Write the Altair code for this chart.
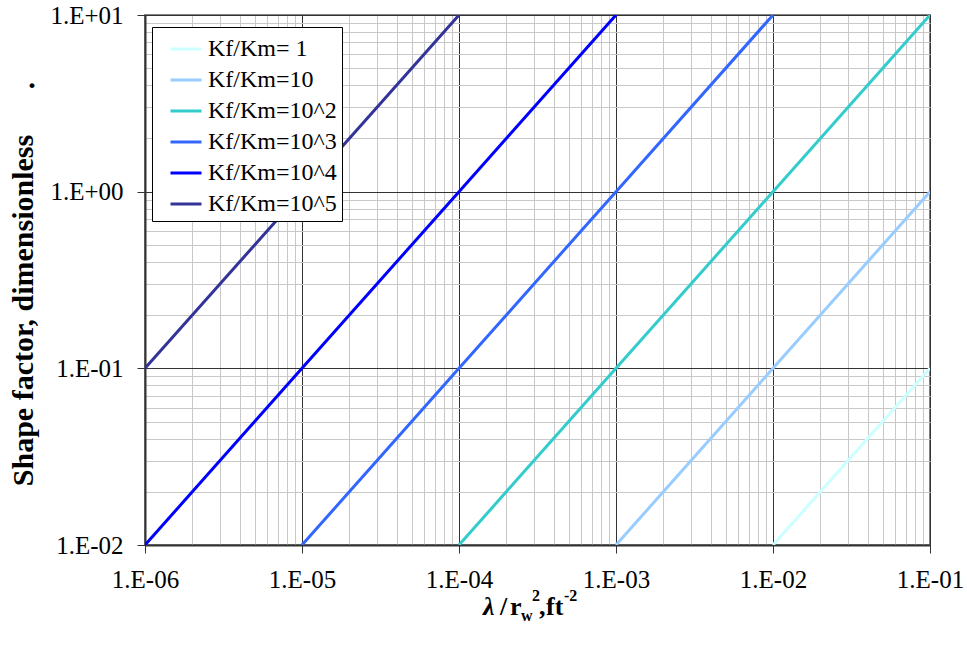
import altair as alt
import pandas as pd

# Shape factor vs. lambda / rw^2 for several fracture/matrix permeability ratios
series_names = ["Kf/Km= 1", "Kf/Km=10", "Kf/Km=10^2", "Kf/Km=10^3", "Kf/Km=10^4", "Kf/Km=10^5"]
series_colors = ["#ccffff", "#99ccff", "#33cccc", "#3366ff", "#0000ff", "#333399"]

x_k1 = [1e-2, 1e-1]
y_k1 = [1e-2, 1e-1]
x_k10 = [1e-3, 1e-2, 1e-1]
y_k10 = [1e-2, 1e-1, 1e0]
x_k100 = [1e-4, 1e-3, 1e-2, 1e-1]
y_k100 = [1e-2, 1e-1, 1e0, 1e1]
x_k1000 = [1e-5, 1e-4, 1e-3, 1e-2]
y_k1000 = [1e-2, 1e-1, 1e0, 1e1]
x_k1e4 = [1e-6, 1e-5, 1e-4, 1e-3]
y_k1e4 = [1e-2, 1e-1, 1e0, 1e1]
x_k1e5 = [1e-6, 1e-5, 1e-4]
y_k1e5 = [1e-1, 1e0, 1e1]

# tick positions: every 1..9 multiple of each decade
x_ticks = [m * 10.0 ** e for e in range(-6, -1) for m in range(1, 10)] + [1e-1]
y_ticks = [m * 10.0 ** e for e in range(-2, 1) for m in range(1, 10)] + [1e1]

xs = [x_k1, x_k10, x_k100, x_k1000, x_k1e4, x_k1e5]
ys = [y_k1, y_k10, y_k100, y_k1000, y_k1e4, y_k1e5]
rows = []
for name, xv, yv in zip(series_names, xs, ys):
    for i, (a, b) in enumerate(zip(xv, yv)):
        rows.append({"series": name, "x": a, "y": b, "order": i})
df = pd.DataFrame(rows)

FONT = "Liberation Serif"
MAJOR = "abs(log(datum.value)/LN10 - round(log(datum.value)/LN10)) < 1e-6"
EXP = "round(log(datum.value)/LN10)"
LABEL = (f"({MAJOR}) ? '1.E' + ({EXP} < 0 ? '-' : '+') + "
         f"(abs({EXP}) < 10 ? '0' : '') + abs({EXP}) : ''")

grid_color = {"condition": {"test": MAJOR, "value": "#333333"}, "value": "#c8c8c8"}
tick_size = {"condition": {"test": MAJOR, "value": 8}, "value": 0}

x_axis = alt.Axis(
    values=x_ticks, labelExpr=LABEL, grid=True, gridColor=grid_color, gridWidth=1,
    tickSize=tick_size, tickColor="#333333", domainColor="#333333", domainWidth=2,
    labelFont=FONT, labelFontSize=25, labelColor="black", labelPadding=14,
    labelOverlap=False, labelFlush=False, title=None,
)
y_axis = alt.Axis(
    values=y_ticks, labelExpr=LABEL, grid=True, gridColor=grid_color, gridWidth=1,
    tickSize=tick_size, tickColor="#333333", domainColor="#333333", domainWidth=2,
    labelFont=FONT, labelFontSize=25, labelColor="black", labelPadding=14,
    labelOverlap=False, labelFlush=False, labelBaseline="middle",
    title="Shape factor, dimensionless", titleFont=FONT, titleFontSize=30,
    titleFontWeight="bold", titleColor="black", titleAngle=270,
    titleBaseline="alphabetic", titleAlign="center", titleX=-113, titleY=295,
)

lines = alt.Chart(df).mark_line(strokeWidth=3, clip=True).encode(
    x=alt.X("x:Q", scale=alt.Scale(type="log", domain=[1e-6, 1e-1], nice=False), axis=x_axis),
    y=alt.Y("y:Q", scale=alt.Scale(type="log", domain=[1e-2, 1e1], nice=False), axis=y_axis),
    color=alt.Color(
        "series:N",
        scale=alt.Scale(domain=series_names, range=series_colors),
        sort=series_names,
        title=None,
        legend=alt.Legend(
            orient="none", legendX=7, legendY=12, fillColor="white", strokeColor="black",
            padding=5, symbolType="stroke", symbolSize=961, symbolStrokeWidth=3,
            symbolOffset=12, labelOffset=5, labelFont=FONT, labelFontSize=24,
            labelColor="black", rowPadding=2, labelLimit=300,
        ),
    ),
    order="order:Q",
)

one = pd.DataFrame({"t": ["."]})


def piece(text, x, y, size, italic=False):
    return alt.Chart(pd.DataFrame({"t": [text]})).mark_text(
        font=FONT, fontSize=size, fontWeight="bold",
        fontStyle="italic" if italic else "normal",
        align="left", baseline="alphabetic", color="black",
    ).encode(text="t:N", x=alt.value(x), y=alt.value(y))


# x-axis title with sub/superscripts, built from separate text pieces
x_title = alt.layer(
    piece("\u03bb", 338, 600, 26, italic=True),
    piece("/", 355, 600, 26),
    piece("r", 365, 600, 26),
    piece("w", 376, 606, 16),
    piece("2", 387, 586, 16),
    piece(",", 394, 600, 26),
    piece("ft", 401, 600, 26),
    piece("-2", 419, 586, 16),
)

stray_dot = alt.Chart(one).mark_text(
    font=FONT, fontSize=30, fontWeight="bold", align="center", baseline="alphabetic",
    color="black",
).encode(text="t:N", x=alt.value(-113), y=alt.value(73))

chart = alt.layer(lines, x_title, stray_dot).properties(
    width=785, height=530,
    autosize=alt.AutoSizeParams(type="none"),
    padding={"left": 145, "top": 15, "right": 37, "bottom": 103},
    background="white",
).configure_view(stroke="#808080", strokeWidth=2)

chart.save("out.html", embed_options={"renderer": "svg", "actions": False})
